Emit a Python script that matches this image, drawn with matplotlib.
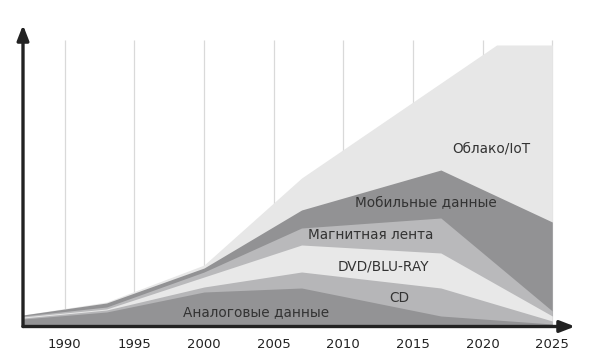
import matplotlib
matplotlib.use("Agg")
import matplotlib.pyplot as plt

# Data (arbitrary units)
years = [1987, 1993, 2000, 2007, 2017, 2025]
analog_top = [6, 13, 33, 37, 9, 1]
cd_top = [7, 15, 38, 53, 37, 4]
dvd_top = [8, 16, 48, 80, 72, 9]
tape_top = [9, 18, 53, 97, 107, 14]
mobile_top = [10, 22, 57, 115, 155, 103]
cloud_years = [1987, 1993, 2000, 2007, 2021, 2025]
cloud_top = [10, 23, 60, 147, 280, 280]

tick_years = [1990, 1995, 2000, 2005, 2010, 2015, 2020, 2025]
tick_labels = ["1990", "1995", "2000", "2005", "2010", "2015", "2020", "2025"]

labels = ["Облако/IoT", "Мобильные данные", "Магнитная лента", "DVD/BLU-RAY", "CD", "Аналоговые данные"]
label_x = [2020.6, 2015.95, 2011.97, 2012.9, 2014.0, 2003.7]
label_y = [177, 122, 90, 59, 27, 13]

plt.rcParams['font.family'] = ['DejaVu Sans']

fig = plt.figure(figsize=(5.91, 3.53), dpi=100)
ax = fig.add_axes([23/591, 28/353, (575-23)/591, 300/353])
ax.set_xlim(1987, 2026.63)
ax.set_ylim(0, 300)

# grid lines behind areas
ax.vlines(tick_years, 0, 285, colors="#d9d9d9", linewidth=0.9, zorder=0)

ax.fill_between(cloud_years, cloud_top, 0, color="#e7e7e7", linewidth=0, zorder=1)
ax.fill_between(years, mobile_top, 0, color="#929294", linewidth=0, zorder=2)
ax.fill_between(years, tape_top, 0, color="#b9b9bb", linewidth=0, zorder=3)
ax.fill_between(years, dvd_top, 0, color="#e8e8e8", linewidth=0, zorder=4)
ax.fill_between(years, cd_top, 0, color="#b6b6b8", linewidth=0, zorder=5)
ax.fill_between(years, analog_top, 0, color="#939395", linewidth=0, zorder=6)

for t, x, y in zip(labels, label_x, label_y):
    ax.text(x, y, t, ha="center", va="center", fontsize=9.8, color="#333333", zorder=10)

for s in ax.spines.values():
    s.set_visible(False)
ax.set_yticks([])
ax.set_xticks(tick_years)
ax.set_xticklabels(tick_labels, fontsize=9.5, color="#222222")
ax.tick_params(axis="x", length=0, pad=9)

# axes arrows
arrow_kw = dict(arrowstyle="-|>,head_length=0.9,head_width=0.35", color="#222222", lw=2.4,
                shrinkA=0, shrinkB=0)
ax.annotate("", xy=(0, 1.0), xytext=(0, -0.005), xycoords="axes fraction",
            arrowprops=arrow_kw, annotation_clip=False, zorder=20)
ax.annotate("", xy=(1.0, -0.005), xytext=(0, -0.005), xycoords="axes fraction",
            arrowprops=arrow_kw, annotation_clip=False, zorder=20)

fig.savefig("out.png", dpi=100)
